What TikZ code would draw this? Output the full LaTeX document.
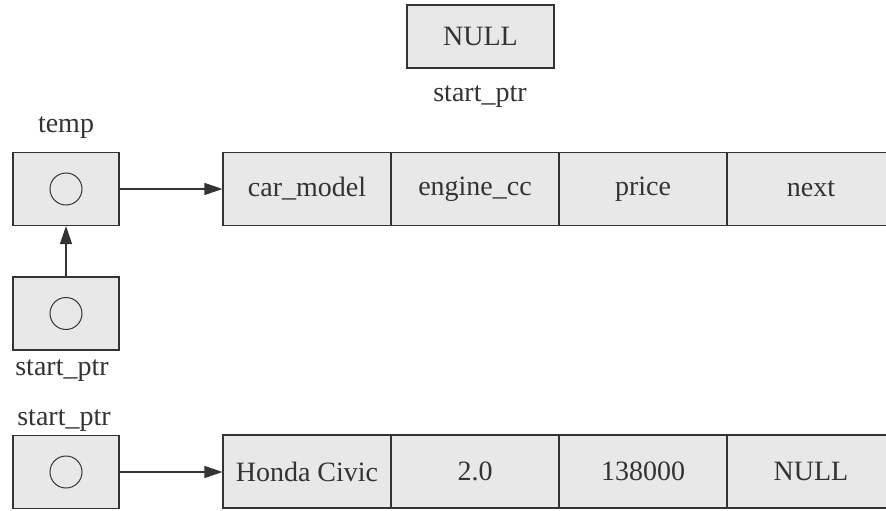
\documentclass[tikz,border=0pt]{standalone}
\usepackage{fontspec}
\setmainfont{Liberation Serif}
\usetikzlibrary{arrows.meta}
\definecolor{ink}{HTML}{333333}
\definecolor{boxfill}{HTML}{E8E8E8}
\tikzset{
  box/.style={draw=ink, line width=1.1pt, fill=boxfill, inner sep=0pt, text=ink,
    font=\fontsize{28}{32}\selectfont},
  cell/.style={box, minimum width=168pt, minimum height=73pt},
  ptrbox/.style={box, minimum width=106pt, minimum height=73pt},
  dot/.style={draw=ink, line width=1pt, circle, minimum size=32pt, inner sep=0pt},
  lbl/.style={text=ink, inner sep=0pt, font=\fontsize{28}{32}\selectfont},
  arr/.style={draw=ink, line width=1.1pt, -{Triangle[length=18pt,width=12pt]}},
}
\begin{document}
\begin{tikzpicture}[x=1pt,y=-1pt]
\useasboundingbox (0,0) rectangle (886,511);
\clip (0,0) rectangle (886,511);
% NULL start_ptr
\node[box, minimum width=147pt, minimum height=63pt] (nullbox) at (480.5,36.5) {NULL};
\node[lbl] (nulllbl) at (480,97) {start\_ptr};
% temp
\node[lbl] (templbl) at (66,128) {temp};
\node[ptrbox] (temp) at (66,189) {};
\node[dot] (tempc) at (temp.center) {};
% lower start_ptr
\node[ptrbox] (sp1) at (66,313.5) {};
\node[dot] (sp1c) at (sp1.center) {};
\node[lbl] (sp1lbl) at (62,371) {start\_ptr};
% top struct
\node[cell] (c1) at (307,189) {car\_model};
\node[cell] (c2) at (475,189) {engine\_cc};
\node[cell] (c3) at (643,189) {price};
\node[cell] (c4) at (811,189) {next};
% bottom
\node[lbl] (sp2lbl) at (64,421) {start\_ptr};
\node[ptrbox] (sp2) at (66,472) {};
\node[dot] (sp2c) at (sp2.center) {};
\node[cell] (d1) at (307,471.5) {Honda Civic};
\node[cell] (d2) at (475,471.5) {2.0};
\node[cell] (d3) at (643,471.5) {138000};
\node[cell] (d4) at (811,471.5) {NULL};
% arrows
\draw[arr] (temp.east) -- (c1.west);
\draw[arr] (sp1.north) -- (temp.south);
\draw[arr] (sp2.east) -- (sp2.east -| d1.west);
\end{tikzpicture}
\end{document}
